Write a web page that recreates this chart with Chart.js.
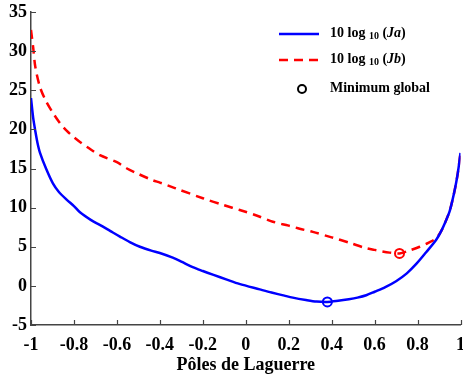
<!DOCTYPE html>
<html>
<head>
<meta charset="utf-8">
<script src="https://cdn.jsdelivr.net/npm/chart.js@4.4.1/dist/chart.umd.min.js"></script>
<style>
  body { margin: 0; background: #fff; overflow: hidden; }
  #wrap { position: relative; width: 463px; height: 376px; overflow: hidden; }
  #legend { position: absolute; left: 278px; top: 0; font-family: "Liberation Serif", "Times New Roman", serif; font-weight: bold; font-size: 14px; color: #000; }
  .row { position: absolute; left: 0; height: 20px; white-space: nowrap; }
  .row svg { position: absolute; left: 0; top: 0; }
  .row span { position: absolute; left: 52px; top: 1px; }
  .row sub { font-size: 10px; vertical-align: -2px; }
</style>
</head>
<body>
<div id="wrap">
  <canvas id="chart" width="467" height="376"></canvas>
  <div id="legend">
    <div class="row" style="top:24px">
      <svg width="44" height="20"><line x1="1" y1="10" x2="41" y2="10" stroke="#0000ff" stroke-width="2.5"/></svg>
      <span>10 log <sub>10</sub> (<i>Ja</i>)</span>
    </div>
    <div class="row" style="top:50px">
      <svg width="44" height="20"><line x1="1" y1="10" x2="41" y2="10" stroke="#ff0000" stroke-width="2.5" stroke-dasharray="9,6"/></svg>
      <span>10 log <sub>10</sub> (<i>Jb</i>)</span>
    </div>
    <div class="row" style="top:79px">
      <svg width="44" height="20"><circle cx="24" cy="10" r="4" fill="none" stroke="#000" stroke-width="2"/></svg>
      <span>Minimum global</span>
    </div>
  </div>
</div>
<script>
// Pôles de Laguerre (axe x) et critères en dB
const jaPoles = [-1.0, -0.99, -0.98, -0.97, -0.958, -0.93, -0.898, -0.87, -0.833, -0.8, -0.772, -0.72, -0.68, -0.63, -0.586, -0.54, -0.493, -0.44, -0.4, -0.34, -0.3, -0.247, -0.2, -0.15, -0.088, -0.03, 0.065, 0.12, 0.18, 0.219, 0.28, 0.33, 0.38, 0.43, 0.48, 0.52, 0.561, 0.6, 0.65, 0.7, 0.75, 0.794, 0.84, 0.887, 0.91, 0.933, 0.95, 0.963, 0.975, 0.985, 0.993, 1.0];
const jaValues = [24, 21.5, 19.8, 18.3, 17.0, 15.0, 13.1, 12.0, 11.0, 10.2, 9.4, 8.4, 7.8, 7.0, 6.3, 5.6, 5.0, 4.5, 4.2, 3.6, 3.1, 2.4, 1.9, 1.4, 0.8, 0.25, -0.45, -0.85, -1.25, -1.5, -1.8, -2.0, -2.05, -1.9, -1.7, -1.5, -1.2, -0.75, -0.15, 0.6, 1.6, 2.8, 4.3, 5.9, 7.0, 8.4, 9.6, 11.0, 12.5, 14.0, 15.5, 17.0];

const jbPoles = [-1.0, -0.99, -0.98, -0.958, -0.93, -0.9, -0.865, -0.833, -0.8, -0.772, -0.72, -0.679, -0.6, -0.553, -0.5, -0.433, -0.4, -0.33, -0.2, -0.1, -0.028, 0.05, 0.126, 0.2, 0.251, 0.312, 0.4, 0.484, 0.55, 0.6, 0.67, 0.716, 0.76, 0.81, 0.85, 0.887, 0.91, 0.933, 0.95, 0.963, 0.975, 0.985, 0.993, 1.0];
const jbValues = [32.7, 30.5, 28.0, 25.4, 23.6, 22.2, 20.8, 19.8, 19.0, 18.4, 17.4, 16.7, 15.8, 15.0, 14.3, 13.5, 13.2, 12.5, 11.2, 10.3, 9.7, 9.0, 8.2, 7.7, 7.3, 6.9, 6.2, 5.5, 4.9, 4.6, 4.25, 4.15, 4.5, 5.0, 5.5, 6.1, 7.0, 8.4, 9.6, 11.0, 12.5, 14.0, 15.5, 17.0];

const xTicks = [-1, -0.8, -0.6, -0.4, -0.2, 0, 0.2, 0.4, 0.6, 0.8, 1];
const yTicks = [-5, 0, 5, 10, 15, 20, 25, 30, 35];

const serif = '"Liberation Serif", "Times New Roman", serif';

function toPoints(xs, ys) {
  return xs.map((x, i) => ({ x: x, y: ys[i] }));
}

// minimum global de chaque courbe
function argMin(xs, ys) {
  let k = 0;
  ys.forEach((v, i) => { if (v < ys[k]) k = i; });
  return { x: xs[k], y: ys[k] };
}

// ticks vers l'intérieur comme dans MATLAB
const innerTicks = {
  id: 'innerTicks',
  afterDraw(chart) {
    const c = chart.ctx, xs = chart.scales.x, ys = chart.scales.y;
    const area = chart.chartArea;
    c.save();
    c.strokeStyle = '#444';
    c.lineWidth = 1.2;
    c.beginPath();
    xTicks.forEach(v => {
      const px = Math.round(xs.getPixelForValue(v)) + 0.5;
      c.moveTo(px, area.bottom);
      c.lineTo(px, area.bottom - 5);
    });
    yTicks.forEach(v => {
      const py = Math.round(ys.getPixelForValue(v)) + 0.5;
      c.moveTo(area.left, py);
      c.lineTo(area.left + 5, py);
    });
    c.stroke();
    c.restore();
  }
};

new Chart(document.getElementById('chart'), {
  type: 'scatter',
  data: {
    datasets: [
      {
        label: 'Ja',
        data: toPoints(jaPoles, jaValues),
        showLine: true,
        borderColor: '#0000ff',
        borderWidth: 2.5,
        pointRadius: 0,
        tension: 0.3
      },
      {
        label: 'Jb',
        data: toPoints(jbPoles, jbValues),
        showLine: true,
        borderColor: '#ff0000',
        borderWidth: 2.5,
        borderDash: [9, 6],
        pointRadius: 0,
        tension: 0.3
      },
      {
        label: 'minJa',
        data: [argMin(jaPoles, jaValues)],
        pointRadius: 4.5,
        pointBorderWidth: 2,
        pointBorderColor: '#0000ff',
        pointBackgroundColor: 'rgba(0,0,0,0)'
      },
      {
        label: 'minJb',
        data: [argMin(jbPoles, jbValues)],
        pointRadius: 4.5,
        pointBorderWidth: 2,
        pointBorderColor: '#ff0000',
        pointBackgroundColor: 'rgba(0,0,0,0)'
      }
    ]
  },
  options: {
    responsive: false,
    animation: false,
    layout: { padding: { top: 12, right: 0, left: 0, bottom: 0 } },
    plugins: {
      legend: { display: false },
      tooltip: { enabled: false }
    },
    scales: {
      x: {
        type: 'linear',
        min: -1,
        max: 1,
        afterBuildTicks: s => { s.ticks = xTicks.map(v => ({ value: v })); },
        afterFit: s => { s.height = 51; },
        // marques invisibles : seulement pour décaler les étiquettes vers le bas
        grid: { display: true, drawOnChartArea: false, drawTicks: true, tickLength: 10, tickColor: 'rgba(0,0,0,0)' },
        border: { display: true, color: '#444', width: 1.5 },
        ticks: {
          padding: 0,
          color: '#000',
          maxRotation: 0,
          font: { family: serif, weight: 'bold', size: 18 },
          callback: v => String(Number(v.toFixed(1)))
        },
        title: {
          display: true,
          text: 'Pôles de Laguerre',
          color: '#000',
          padding: { top: 0, bottom: 0 },
          font: { family: serif, weight: 'bold', size: 18 }
        }
      },
      y: {
        min: -5,
        max: 35,
        afterBuildTicks: s => { s.ticks = yTicks.map(v => ({ value: v })); },
        afterFit: s => { s.width = 31; s.paddingTop = 0; s.paddingBottom = 0; },
        grid: { display: true, drawOnChartArea: false, drawTicks: false },
        border: { display: true, color: '#444', width: 1.5 },
        ticks: {
          padding: 4,
          color: '#000',
          font: { family: serif, weight: 'bold', size: 18 }
        }
      }
    }
  },
  plugins: [innerTicks]
});
</script>
</body>
</html>
